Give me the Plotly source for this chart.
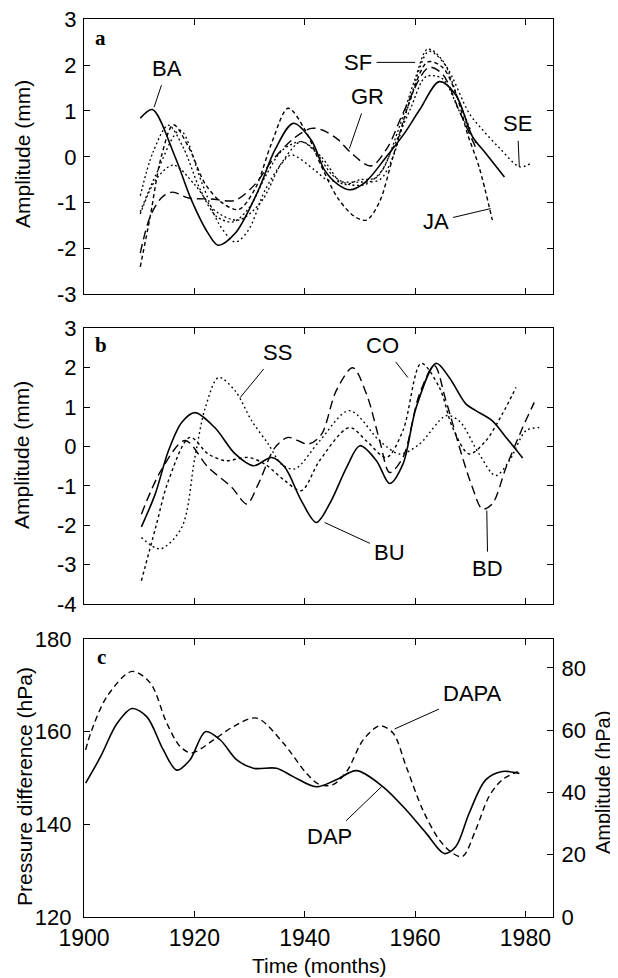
import plotly.graph_objects as go

# ---------------- Panel a (Amplitude, mm) ----------------
ba_x = [1910.2, 1912.4, 1916.5, 1919.5, 1922.5, 1924.3, 1927.4, 1931.6, 1934.6, 1937.9, 1941.2, 1943.6, 1946, 1948.2, 1951, 1954.8, 1958, 1960.8, 1964.4, 1967.4, 1970.4, 1972.8, 1976.2]
ba_y = [0.84, 1.03, 0.0, -0.95, -1.67, -1.93, -1.67, -0.73, 0.15, 0.73, 0.36, -0.29, -0.6, -0.72, -0.55, 0.0, 0.5, 1.02, 1.64, 1.35, 0.44, 0.08, -0.44]

ja_x = [1910.2, 1912, 1914, 1916.2, 1919, 1922, 1925, 1928, 1931, 1934, 1937, 1940, 1943, 1946, 1949, 1951.2, 1953.5, 1956, 1959, 1962.3, 1965, 1967.4, 1969.5, 1971.6, 1974]
ja_y = [-2.4, -1.3, 0.0, 0.7, 0.2, -0.6, -1.0, -1.15, -0.7, 0.3, 1.06, 0.6, -0.2, -0.9, -1.3, -1.38, -1.0, 0.0, 1.2, 2.07, 1.95, 1.38, 0.5, -0.22, -1.38]

gr_x = [1910.2, 1912, 1914, 1916, 1919, 1923, 1927.4, 1931, 1934, 1938, 1941.2, 1943.3, 1946, 1948.2, 1952, 1955, 1958, 1962.5, 1965, 1968, 1971]
gr_y = [-2.1, -1.3, -0.9, -0.77, -0.9, -0.92, -0.95, -0.6, -0.1, 0.4, 0.62, 0.58, 0.38, 0.11, -0.2, 0.2, 1.0, 1.95, 1.8, 1.0, 0.2]

sf_x = [1910.2, 1912.5, 1915.3, 1918, 1921, 1924, 1927, 1930, 1933, 1936, 1939.4, 1942, 1945, 1948, 1951, 1954, 1957, 1960, 1962.3, 1965, 1968, 1970]
sf_y = [-0.85, 0.1, 0.69, 0.2, -0.7, -1.3, -1.42, -1.1, -0.4, 0.15, 0.33, 0.1, -0.4, -0.6, -0.6, -0.3, 0.6, 1.7, 2.35, 2.1, 1.2, 0.6]

se_x = [1910.2, 1913, 1917.4, 1921.4, 1924.4, 1927.4, 1929.8, 1932.8, 1935.8, 1937.6, 1941.8, 1944, 1947, 1950, 1953.6, 1956, 1959, 1962.5, 1965.5, 1969.8, 1972, 1975.3, 1979, 1981]
se_y = [-1.2, -0.4, 0.58, -0.58, -1.45, -1.86, -1.6, -0.73, -0.15, 0.04, -0.29, -0.5, -0.55, -0.55, -0.5, 0.0, 1.2, 2.3, 2.0, 0.95, 0.62, 0.19, -0.22, -0.14]

o3_x = [1910.2, 1913, 1916.2, 1920, 1924, 1928, 1932, 1936, 1939.4, 1943, 1947, 1950, 1953, 1956, 1959, 1962, 1965, 1968, 1971]
o3_y = [-1.25, -0.5, -0.18, -0.6, -1.2, -1.38, -1.0, -0.1, 0.33, 0.0, -0.6, -0.5, -0.45, 0.2, 1.0, 1.75, 1.7, 1.0, 0.3]

# ---------------- Panel b (Amplitude, mm) ----------------
bu_x = [1910.4, 1912.9, 1915.3, 1917.7, 1920.1, 1923.7, 1927.4, 1930.7, 1934, 1936.4, 1939.4, 1942.1, 1944.5, 1947.6, 1950, 1953, 1955.4, 1957.8, 1960.2, 1963.8, 1966.2, 1969.2, 1971, 1974, 1976.5, 1979.5]
bu_y = [-2.04, -1.21, -0.11, 0.61, 0.86, 0.48, -0.19, -0.49, -0.28, -0.53, -1.38, -1.93, -1.46, -0.53, 0.02, -0.36, -0.94, -0.45, 0.99, 2.11, 1.75, 1.08, 0.91, 0.65, 0.23, -0.29]

ss_x = [1910.4, 1913.8, 1917.7, 1920.1, 1922, 1924.4, 1927.4, 1930.4, 1933.4, 1935.8, 1938.2, 1942.7, 1948.1, 1953.6, 1957.2, 1960.8, 1965.6, 1968, 1971.6, 1974.6, 1977.1, 1980.1, 1982.5]
ss_y = [-2.31, -2.6, -2.06, -0.28, 0.99, 1.75, 1.41, 0.65, 0.06, -0.45, -0.57, 0.14, 0.91, 0.14, -0.19, 0.06, 0.78, 0.65, -0.19, -0.74, -0.36, 0.4, 0.48]

co_x = [1910.4, 1913, 1915.3, 1919.2, 1922.5, 1925.6, 1929.8, 1932.8, 1936.4, 1939.4, 1942.7, 1948.1, 1951.2, 1954.8, 1957.8, 1961.1, 1964.4, 1966.8, 1969.8, 1972.8, 1975.8, 1978.3]
co_y = [-3.41, -2.05, -0.87, 0.23, -0.19, -0.36, -0.28, -0.45, -0.87, -1.12, -0.36, 0.48, 0.14, -0.28, 0.4, 2.11, 1.5, 0.48, -0.19, 0.14, 0.82, 1.5]

bd_x = [1910.4, 1914, 1918.3, 1922.5, 1926.8, 1929.5, 1931.6, 1934.6, 1937, 1940.6, 1943, 1945.7, 1948.7, 1951.2, 1953.6, 1955.4, 1957.8, 1960.8, 1963.5, 1965.6, 1968.6, 1970.4, 1972.2, 1974, 1976.5, 1979.5, 1981.6]
bd_y = [-1.72, -0.6, 0.15, -0.53, -1.04, -1.46, -0.95, -0.03, 0.23, 0.06, 0.3, 1.41, 2.0, 1.33, 0.14, -0.66, -0.28, 1.33, 2.05, 1.16, -0.28, -1.04, -1.59, -1.46, -0.53, 0.48, 1.12]

# ---------------- Panel c ----------------
dap_x = [1900.3, 1903, 1906, 1908.7, 1911.4, 1914.4, 1916.8, 1919.2, 1922, 1924.7, 1927.7, 1930.7, 1934.9, 1937.9, 1942.1, 1945.7, 1949.4, 1954.2, 1958.4, 1962, 1965.3, 1967.4, 1969.8, 1972.8, 1975.8, 1978.9]
dap_y = [148.9, 154.6, 161.8, 165.0, 163.2, 156.0, 151.7, 153.9, 160.0, 158.2, 153.9, 152.1, 152.1, 150.3, 148.1, 149.6, 151.6, 148.1, 143.1, 138.1, 133.7, 135.2, 142.4, 149.6, 151.4, 151.0]

dapa_x = [1900.3, 1901.2, 1904.2, 1908.7, 1912, 1915, 1917.4, 1919.5, 1923.5, 1927.1, 1931.3, 1936.1, 1940.3, 1942.7, 1945.1, 1947.6, 1950.6, 1953.6, 1956, 1958.4, 1961.4, 1964.4, 1966.8, 1968.6, 1971, 1973.4, 1975.8, 1978.6]
dapa_y = [53.7, 59.0, 70.9, 78.9, 75.2, 62.3, 54.8, 52.7, 56.9, 61.2, 63.9, 55.9, 46.2, 42.5, 42.5, 46.7, 56.9, 61.4, 59.1, 48.3, 34.4, 24.8, 20.5, 19.4, 28.0, 38.7, 44.1, 46.7]

# ---------------- Ticks ----------------
x_ticks = [1900, 1920, 1940, 1960, 1980]
x_ticktext = ["1900", "1920", "1940", "1960", "1980"]
ya_ticks = [-3, -2, -1, 0, 1, 2, 3]
ya_text = ["-3", "-2", "-1", "0", "1", "2", "3"]
yb_ticks = [-4, -3, -2, -1, 0, 1, 2, 3]
yb_text = ["-4", "-3", "-2", "-1", "0", "1", "2", "3"]
yc_ticks = [120, 140, 160, 180]
yc_text = ["120", "140", "160", "180"]
yr_ticks = [0, 20, 40, 60, 80]
yr_text = ["0", "20", "40", "60", "80"]

# The page body has an 8px default margin: size the figure so it fills the window.
OFF = 8
W, H = 618 - OFF, 978 - OFF
FONT = "Liberation Sans, Arial, Helvetica, sans-serif"


def px(p):
    return (p - OFF) / W


def py(p):
    return 1 - (p - OFF) / H


fig = go.Figure()


def add(x, y, dash, xa, ya, width=1.4):
    fig.add_trace(go.Scatter(
        x=x, y=y, mode="lines",
        line=dict(color="black", width=width, dash=dash, shape="spline", smoothing=0.9),
        xaxis=xa, yaxis=ya, showlegend=False, hoverinfo="skip"))


DOT = "2px,2.5px"
SPARSE = "1.8px,3px"
SHORT = "4px,3px"
LONG = "9px,5px"

# panel a
add(ba_x, ba_y, "solid", "x", "y", 1.6)
add(ja_x, ja_y, SHORT, "x", "y")
add(gr_x, gr_y, LONG, "x", "y")
add(sf_x, sf_y, DOT, "x", "y", 1.3)
add(se_x, se_y, SPARSE, "x", "y", 1.4)
add(o3_x, o3_y, DOT, "x", "y", 1.3)
# panel b
add(bu_x, bu_y, "solid", "x2", "y2", 1.6)
add(ss_x, ss_y, SPARSE, "x2", "y2", 1.4)
add(co_x, co_y, "3px,3px", "x2", "y2")
add(bd_x, bd_y, LONG, "x2", "y2")
# panel c
add(dap_x, dap_y, "solid", "x3", "y3", 1.6)
add(dapa_x, dapa_y, "6px,4px", "x3", "y4", 1.4)

xdom = [px(84), px(553)]


def axis_style(size=22):
    return dict(showline=True, linecolor="black", linewidth=1.2, ticks="inside",
                ticklen=6, tickcolor="black", tickwidth=1.1, showgrid=False,
                zeroline=False, automargin=False, ticklabeloverflow="allow",
                tickfont=dict(family=FONT, size=size, color="black"))


fig.update_layout(
    width=W, height=H, margin=dict(l=0, r=0, t=0, b=0),
    paper_bgcolor="white", plot_bgcolor="white", showlegend=False,
    xaxis=dict(domain=xdom, anchor="y", range=[1900, 1985], tickvals=x_ticks,
               showticklabels=False, mirror="ticks", **axis_style()),
    yaxis=dict(domain=[py(294.3), py(19.3)], anchor="x", range=[-3, 3],
               tickvals=ya_ticks, ticktext=ya_text, mirror="ticks",
               ticklabelstandoff=2, **axis_style()),
    xaxis2=dict(domain=xdom, anchor="y2", range=[1900, 1985], tickvals=x_ticks,
                showticklabels=False, mirror="ticks", **axis_style()),
    yaxis2=dict(domain=[py(604), py(328.3)], anchor="x2", range=[-4, 3],
                tickvals=yb_ticks, ticktext=yb_text, mirror="ticks",
                ticklabelstandoff=2, **axis_style()),
    xaxis3=dict(domain=xdom, anchor="y3", range=[1900, 1985], tickvals=x_ticks,
                ticktext=x_ticktext, mirror="ticks", **axis_style(23)),
    yaxis3=dict(domain=[py(917), py(639)], anchor="x3", range=[120, 180],
                tickvals=yc_ticks, ticktext=yc_text, ticklabelstandoff=7, **axis_style()),
    yaxis4=dict(domain=[py(917), py(639)], anchor="x3", overlaying="y3", side="right",
                range=[0, 89.3], tickvals=yr_ticks, ticktext=yr_text,
                ticklabelstandoff=3, **axis_style()),
)

# series labels with leader lines (point on curve, text offset in px)
labels = [
    ("BA", "x", "y", 1912.7, 1.08, 13, -39),
    ("SF", "x", "y", 1960.0, 2.06, -57, 0),
    ("GR", "x", "y", 1948.1, 0.18, 18, -52),
    ("SE", "x", "y", 1978.9, -0.22, -2, -43),
    ("JA", "x", "y", 1973.7, -1.13, -55, 13),
    ("SS", "x2", "y2", 1928.3, 1.24, 37, -45),
    ("CO", "x2", "y2", 1958.7, 1.75, -25, -32),
    ("BU", "x2", "y2", 1943.6, -1.93, 65, 30),
    ("BD", "x2", "y2", 1973.0, -1.63, 1, 58),
    ("DAPA", "x3", "y4", 1956.3, 60.4, 78, -35),
    ("DAP", "x3", "y3", 1953.9, 148.1, -52, 50),
]
for txt, xr, yr, xv, yv, ax, ay in labels:
    fig.add_annotation(text=txt, x=xv, y=yv, xref=xr, yref=yr, ax=ax, ay=ay,
                       showarrow=True, arrowhead=0, arrowwidth=1, arrowcolor="black",
                       standoff=0, startstandoff=3,
                       font=dict(family=FONT, size=22, color="black"))

# panel letters
for txt, lx, ly in [("a", 100, 38), ("b", 101, 345), ("c", 101, 657)]:
    fig.add_annotation(text="<b>" + txt + "</b>", x=px(lx), y=py(ly), xref="paper",
                       yref="paper", showarrow=False, xanchor="center", yanchor="middle",
                       font=dict(family="Liberation Serif, Times New Roman, serif", size=21,
                                 color="black"))

# axis titles
titles = [
    ("Amplitude (mm)", 22, 154, -90, 21),
    ("Amplitude (mm)", 22, 455, -90, 21),
    ("Pressure difference (hPa)", 24, 787, -90, 21),
    ("Amplitude (hPa)", 603, 783, -90, 20),
    ("Time (months)", 319, 965, 0, 21),
]
for txt, tx, ty, ang, sz in titles:
    fig.add_annotation(text=txt, x=px(tx), y=py(ty), xref="paper", yref="paper",
                       showarrow=False, textangle=ang, xanchor="center", yanchor="middle",
                       font=dict(family=FONT, size=sz, color="black"))

fig.write_html("out.html", config={"displayModeBar": False})
